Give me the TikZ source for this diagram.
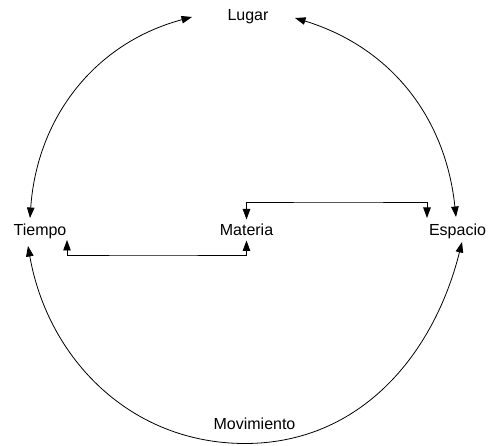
\documentclass[tikz,border=0pt]{standalone}
\usepackage{fontspec}
\setmainfont{Liberation Sans}
\usetikzlibrary{arrows.meta}
\begin{document}
\begin{tikzpicture}[x=1pt,y=1pt,
  lbl/.style={anchor=base, inner sep=0pt, font=\fontsize{16}{19}\selectfont},
  link/.style={line width=0.8pt, {Triangle[length=10.5pt,width=7.5pt]}-{Triangle[length=10.5pt,width=7.5pt]}}]
\useasboundingbox (0,0) rectangle (489,446);
\node[lbl] (lugar) at (248,425.5) {Lugar};
\node[lbl] (tiempo) at (40,210.5) {Tiempo};
\node[lbl] (materia) at (246.5,210.5) {Materia};
\node[lbl] (espacio) at (457.5,210.5) {Espacio};
\node[lbl] (movimiento) at (254.5,16.5) {Movimiento};
% connector ends
\coordinate (lugarW) at (192,429);
\coordinate (lugarE) at (295,428);
\coordinate (tiempoN) at (30,228);
\coordinate (tiempoS) at (28,200);
\coordinate (tiempoE) at (67,206);
\coordinate (materiaN) at (246.5,226.5);
\coordinate (materiaS) at (246.5,205.5);
\coordinate (espacioW) at (427,228);
\coordinate (espacioN) at (456,229);
\coordinate (espacioS) at (462,204);
\coordinate (bottom) at (245,2.5);
\coordinate (upbar) at (340,244);
\coordinate (lowbar) at (150,191);
% arcs
\draw[link] (lugarW) to[out=195,in=86] (tiempoN);
\draw[link] (lugarE) to[out=-17,in=96] (espacioN);
\draw[link] (tiempoS) to[out=-80,in=180] (bottom) to[out=0,in=-104] (espacioS);
% brackets
\draw[link] (materiaN) |- (upbar) -| (espacioW);
\draw[link] (tiempoE) |- (lowbar) -| (materiaS);
\end{tikzpicture}
\end{document}
